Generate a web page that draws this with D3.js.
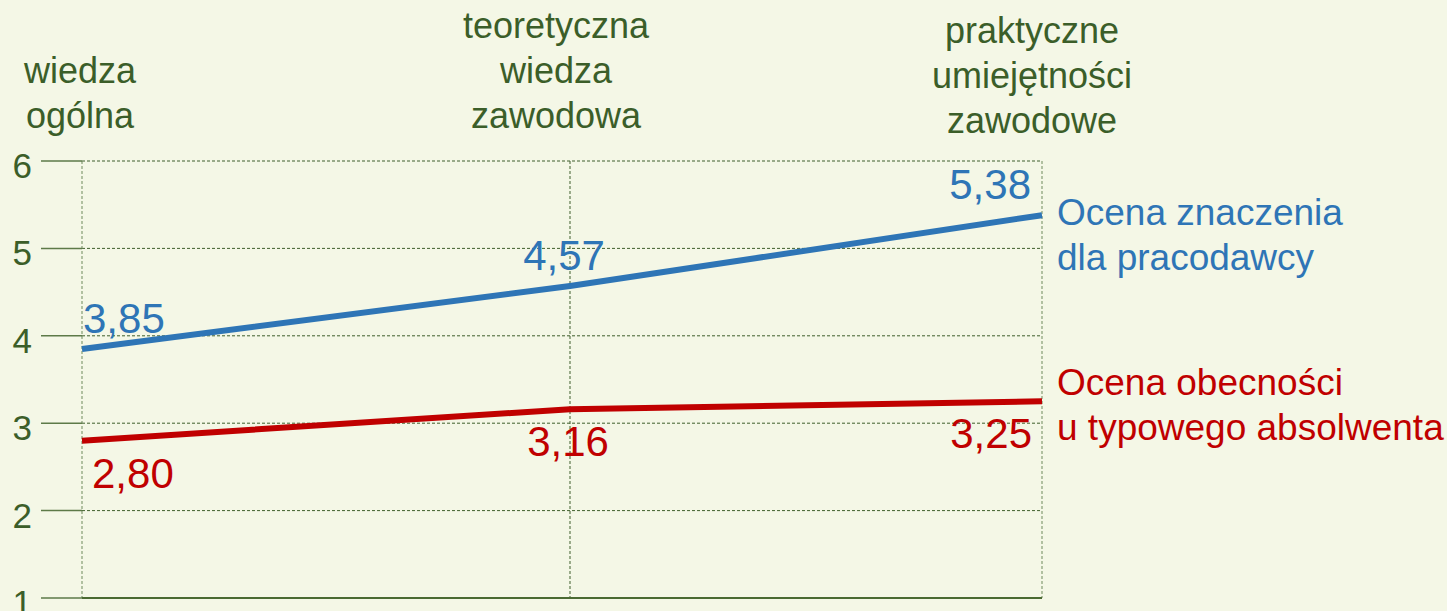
<!DOCTYPE html>
<html>
<head>
<meta charset="utf-8">
<script src="https://cdn.jsdelivr.net/npm/d3@7"></script>
<style>
  html, body { margin: 0; padding: 0; background: #f4f7e6; }
  svg { display: block; font-family: "Liberation Sans", Arial, sans-serif; }
</style>
</head>
<body>
<div class="chart"></div>
<script>
// kategorie (etykiety wielowierszowe)
var categories = [
    ["wiedza", "ogólna"],
    ["teoretyczna", "wiedza", "zawodowa"],
    ["praktyczne", "umiejętności", "zawodowe"]
];
var employerName = ["Ocena znaczenia", "dla pracodawcy"];
var graduateName = ["Ocena obecności", "u typowego absolwenta"];
var employerValues = [3.85, 4.57, 5.38];
var graduateValues = [2.80, 3.16, 3.25];
var yTicks = [1, 2, 3, 4, 5, 6];

var w = 1447;
var h = 611;
var green = "#3b5e29";
var blue = "#2e75b6";
var red = "#c00000";

var svg = d3.select(".chart")
    .append("svg")
    .attr("width", w)
    .attr("height", h);

svg.append("rect").attr("width", w).attr("height", h).attr("fill", "#f4f7e6");

var y = d3.scaleLinear().domain([1, 6]).range([598, 161]);
// punkty danych - srodkowy troche przesuniety jak w oryginale
var x = d3.scaleLinear().domain([0, 1, 2]).range([82, 570, 1042]);
// etykiety kategorii rozlozone rowno
var xLab = d3.scalePoint().domain(d3.range(categories.length)).range([80, 1032]);

var fmt = function(d) { return d3.format(".2f")(d).replace(".", ","); };

// siatka pozioma
svg.selectAll("line.hgrid")
    .data(yTicks.filter(function(d) { return d > 1; }))
    .enter().append("line")
    .attr("class", "hgrid")
    .attr("x1", x(0)).attr("x2", x(2))
    .attr("y1", function(d) { return y(d); })
    .attr("y2", function(d) { return y(d); })
    .attr("stroke", "#3f5f2c")
    .attr("stroke-width", 1)
    .attr("stroke-dasharray", "3,2");

// siatka pionowa
svg.selectAll("line.vgrid")
    .data(d3.range(categories.length))
    .enter().append("line")
    .attr("class", "vgrid")
    .attr("x1", function(d) { return x(d); })
    .attr("x2", function(d) { return x(d); })
    .attr("y1", y(6)).attr("y2", y(1))
    .attr("stroke", function(d) { return d == 1 ? "#3f5f2c" : "#6f8a5c"; })
    .attr("stroke-width", 1)
    .attr("stroke-dasharray", "3,2");

// os Y - kreski i liczby
svg.selectAll("line.tick")
    .data(yTicks)
    .enter().append("line")
    .attr("class", "tick")
    .attr("x1", 41).attr("x2", x(0))
    .attr("y1", function(d) { return y(d); })
    .attr("y2", function(d) { return y(d); })
    .attr("stroke", "#5d7a48")
    .attr("stroke-width", 1.5);

svg.selectAll("text.ytick")
    .data(yTicks)
    .enter().append("text")
    .attr("class", "ytick")
    .attr("x", 32)
    .attr("y", function(d) { return y(d) + 17; })
    .attr("text-anchor", "end")
    .attr("font-size", "35px")
    .attr("fill", green)
    .text(function(d) { return d; });

// os X
svg.append("line")
    .attr("x1", x(0)).attr("x2", x(2))
    .attr("y1", y(1)).attr("y2", y(1))
    .attr("stroke", "#4a6a32")
    .attr("stroke-width", 2);

// etykiety kategorii
categories.forEach(function(lines, i) {
    var t = svg.append("text")
        .attr("text-anchor", "middle")
        .attr("font-size", "36px")
        .attr("fill", green);
    lines.forEach(function(s, j) {
        t.append("tspan")
            .attr("x", xLab(i))
            .attr("y", 128 - (lines.length - 1 - j) * 45 + (i == 2 ? 5 : 0))
            .text(s);
    });
});

var series = [
    { values: employerValues, color: blue, name: employerName, dy: -16, dx: [1, -6, -11], legendY: 225 },
    { values: graduateValues, color: red, name: graduateName, dy: 47, dx: [10, -2, -10], legendY: 395 }
];
var anchors = ["start", "middle", "end"];

var line = d3.line()
    .x(function(d, i) { return x(i); })
    .y(function(d) { return y(d); });

series.forEach(function(s) {
    svg.append("path")
        .datum(s.values)
        .attr("d", line)
        .attr("fill", "none")
        .attr("stroke", s.color)
        .attr("stroke-width", 6);

    svg.selectAll(null)
        .data(s.values)
        .enter().append("text")
        .attr("x", function(d, i) { return x(i) + s.dx[i]; })
        .attr("y", function(d) { return y(d) + s.dy; })
        .attr("text-anchor", function(d, i) { return anchors[i]; })
        .attr("font-size", "42px")
        .attr("fill", s.color)
        .text(fmt);

    var lg = svg.append("text")
        .attr("font-size", "37px")
        .attr("fill", s.color);
    s.name.forEach(function(n, j) {
        lg.append("tspan")
            .attr("x", 1057)
            .attr("y", s.legendY + j * 45)
            .text(n);
    });
});
</script>
</body>
</html>
